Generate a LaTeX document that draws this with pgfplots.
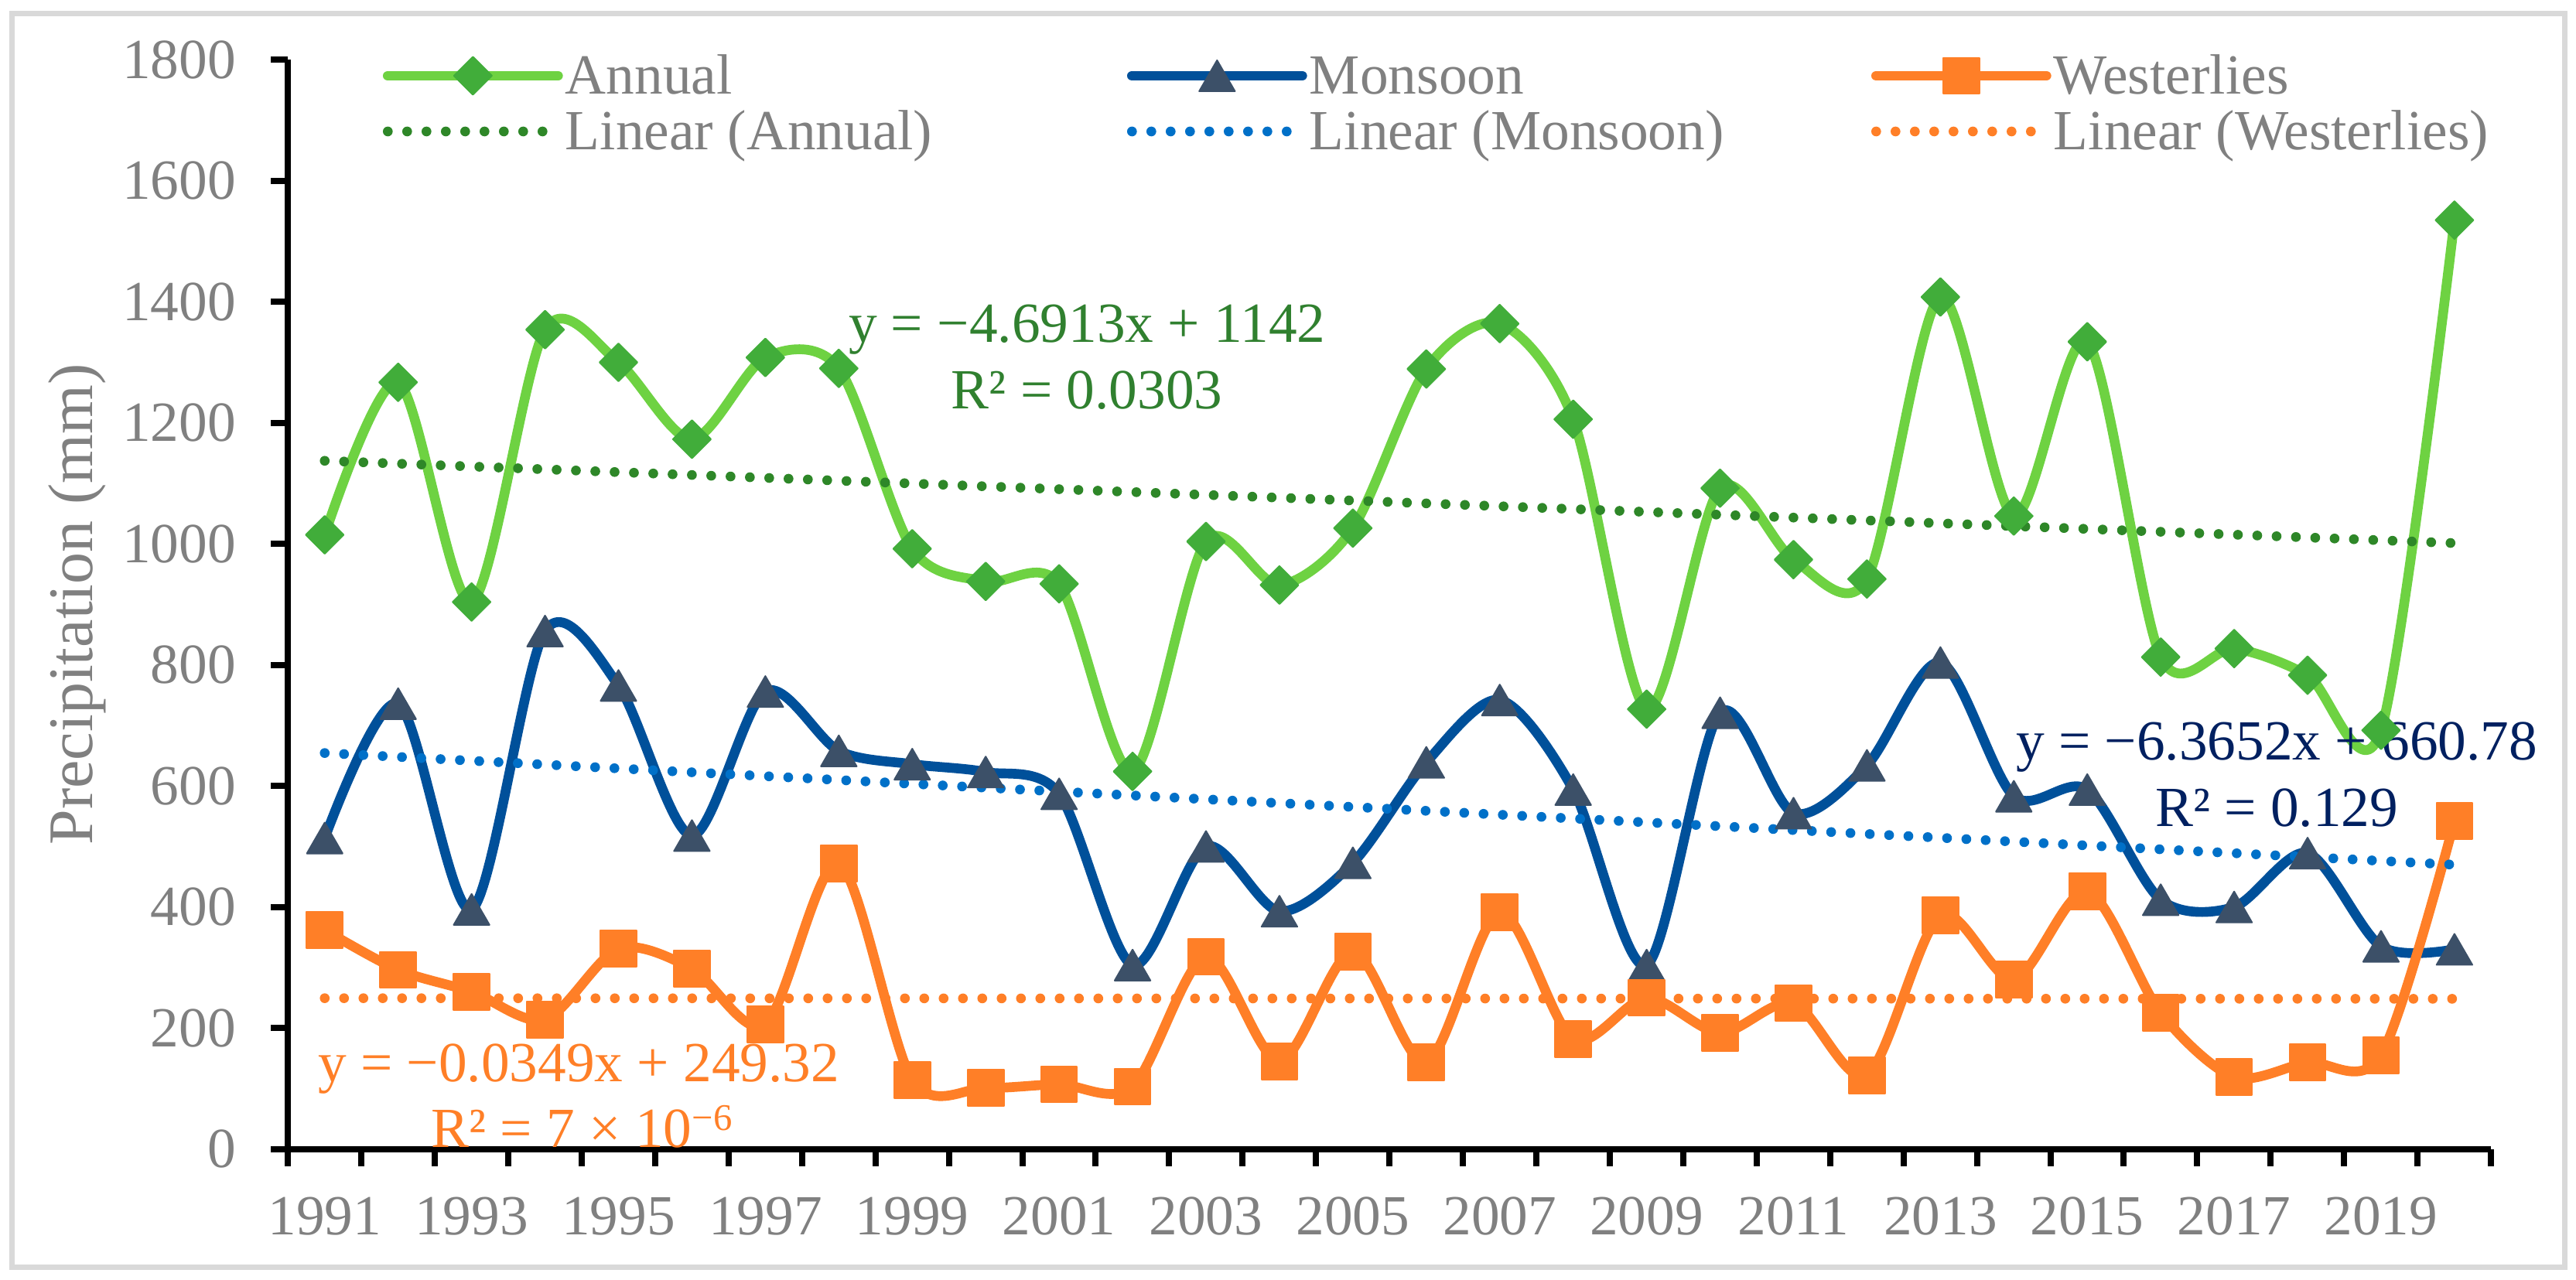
\documentclass[border=0pt]{standalone}
\usepackage{fontspec}
\setmainfont{Liberation Serif}
\usepackage{pgfplots}
\pgfplotsset{compat=1.18}
\definecolor{lgreen}{HTML}{6ED242}
\definecolor{mgreen}{HTML}{41AD3A}
\definecolor{tgreen}{HTML}{2E8728}
\definecolor{eqgreen}{HTML}{30802F}
\definecolor{mblue}{HTML}{00509A}
\definecolor{mtri}{HTML}{3C5068}
\definecolor{tblue}{HTML}{0070C8}
\definecolor{navy}{HTML}{002060}
\definecolor{orng}{HTML}{FF7F27}
\definecolor{tgray}{HTML}{808080}
\definecolor{framegray}{HTML}{D9D9D9}

\pgfplotstableread{
year annual monsoon westerlies
1991 1015 514 362
1992 1267 736 296
1993 904 396 260
1994 1354 856 214
1995 1300 766 331
1996 1173 518 298
1997 1308 756 206
1998 1290 658 472
1999 992 636 114
2000 938 623 101
2001 934 587 107
2002 624 304 103
2003 1004 500 318
2004 932 393 145
2005 1026 473 326
2006 1289 639 143
2007 1364 742 391
2008 1206 594 182
2009 727 304 250
2010 1092 721 192
2011 974 555 241
2012 942 634 122
2013 1408 804 386
2014 1046 583 280
2015 1334 594 426
2016 813 412 225
2017 827 400 119
2018 783 489 143
2019 692 335 155
2020 1535 330 542
}\datatable

\begin{document}
\begin{tikzpicture}
\useasboundingbox (0,0) rectangle (499.5pt,248.25pt);
\draw[color=framegray, line width=1.05pt] (2.25pt,2.4pt) rectangle (497.25pt,245.55pt);
\begin{axis}[
  at={(55.845pt,25.395pt)}, anchor=south west,
  scale only axis, width=427.2pt, height=211.26pt,
  xmin=1990.5, xmax=2020.5, ymin=0, ymax=1800,
  clip=false,
  axis lines*=left,
  axis line style={-, line width=1.2pt, black},
  tick align=outside,
  major tick length=3.3pt, minor tick length=3.3pt,
  tick style={line width=1.2pt, black},
  ytick={0,200,...,1800},
  xtick={1991,1993,...,2019},
  minor xtick={1990.5,1991.5,...,2020.5},
  major x tick style={draw=none},
  /pgf/number format/1000 sep={},
  /pgf/number format/assume math mode=true,
  tick label style={font=\rmfamily\fontsize{11}{11}\selectfont, text=tgray},
  yticklabel style={inner sep=0pt, xshift=-6.6pt},
  xticklabel style={inner sep=0pt, yshift=-5.85pt},
  ylabel={Precipitation (mm)},
  ylabel style={font=\rmfamily\fontsize{12.3}{12.3}\selectfont, text=tgray, at={(axis description cs:-0.0887,0.5)}, anchor=base},
  legend columns=3,
  legend cell align=left,
  legend style={at={(0.04308,1.01087)}, anchor=north west, draw=none, fill=none,
    inner sep=0pt, outer sep=0pt, row sep=0pt,
    nodes={inner sep=0pt, text height=9pt, text depth=1.8pt, font=\fontsize{11}{11}\selectfont, text=tgray},
    /tikz/every odd column/.append style={column sep=0.5pt}},
  legend image code/.code={\draw[mark repeat=2,mark phase=2] plot coordinates {(0pt,0pt) (16.5pt,0pt) (33pt,0pt)};},
]
\addplot[smooth, tension=0.5, color=lgreen, line width=1.9pt, line cap=round, line join=round,
  mark=square*, mark size=2.6pt, mark options={solid, rotate=45, fill=mgreen, draw=mgreen, line width=0.3pt}]
  table[x=year, y=annual] {\datatable};
\addlegendentry{\makebox[108.9pt][l]{Annual}}
\addplot[smooth, tension=0.5, color=mblue, line width=1.9pt, line cap=round, line join=round,
  mark=triangle*, mark size=4pt, mark options={solid, yshift=-1pt, fill=mtri, draw=mtri, line width=0.3pt}]
  table[x=year, y=monsoon] {\datatable};
\addlegendentry{\makebox[108.9pt][l]{Monsoon}}
\addplot[smooth, tension=0.5, color=orng, line width=1.9pt, line cap=round, line join=round,
  mark=square*, mark size=3.5pt, mark options={solid, fill=orng, draw=orng, line width=0.3pt}]
  table[x=year, y=westerlies] {\datatable};
\addlegendentry{\makebox[108.9pt][l]{Westerlies}}
\addplot[color=tgreen, line width=1.9pt, line cap=round, dash pattern=on 0pt off 3.75pt]
  coordinates {(1991,1137.31) (2020,1001.26)};
\addlegendentry{\makebox[108.9pt][l]{Linear (Annual)}}
\addplot[color=tblue, line width=1.9pt, line cap=round, dash pattern=on 0pt off 3.75pt]
  coordinates {(1991,654.41) (2020,469.82)};
\addlegendentry{\makebox[108.9pt][l]{Linear (Monsoon)}}
\addplot[color=orng, line width=1.9pt, line cap=round, dash pattern=on 0pt off 3.75pt]
  coordinates {(1991,249.29) (2020,248.27)};
\addlegendentry{\makebox[108.9pt][l]{Linear (Westerlies)}}

\node[anchor=base, inner sep=0pt, text=eqgreen, font=\fontsize{11}{11}\selectfont] at (axis cs:2001.38,1332.6) {y = −4.6913x + 1142};
\node[anchor=base, inner sep=0pt, text=eqgreen, font=\fontsize{11}{11}\selectfont] at (axis cs:2001.38,1222.7) {R² = 0.0303};
\node[anchor=base, inner sep=0pt, text=navy, font=\fontsize{11}{11}\selectfont] at (axis cs:2017.58,642.5) {y = −6.3652x + 660.78};
\node[anchor=base, inner sep=0pt, text=navy, font=\fontsize{11}{11}\selectfont] at (axis cs:2017.58,533.8) {R² = 0.129};
\node[anchor=base, inner sep=0pt, text=orng, font=\fontsize{11}{11}\selectfont] at (axis cs:1994.46,111.6) {y = −0.0349x + 249.32};
\node[anchor=base, inner sep=0pt, text=orng, font=\fontsize{11}{11}\selectfont] at (axis cs:1994.50,3.4) {R² = 7 × 10\raisebox{3.3pt}{\fontsize{7.3}{7.3}\selectfont −6}};
\end{axis}
\end{tikzpicture}
\end{document}
